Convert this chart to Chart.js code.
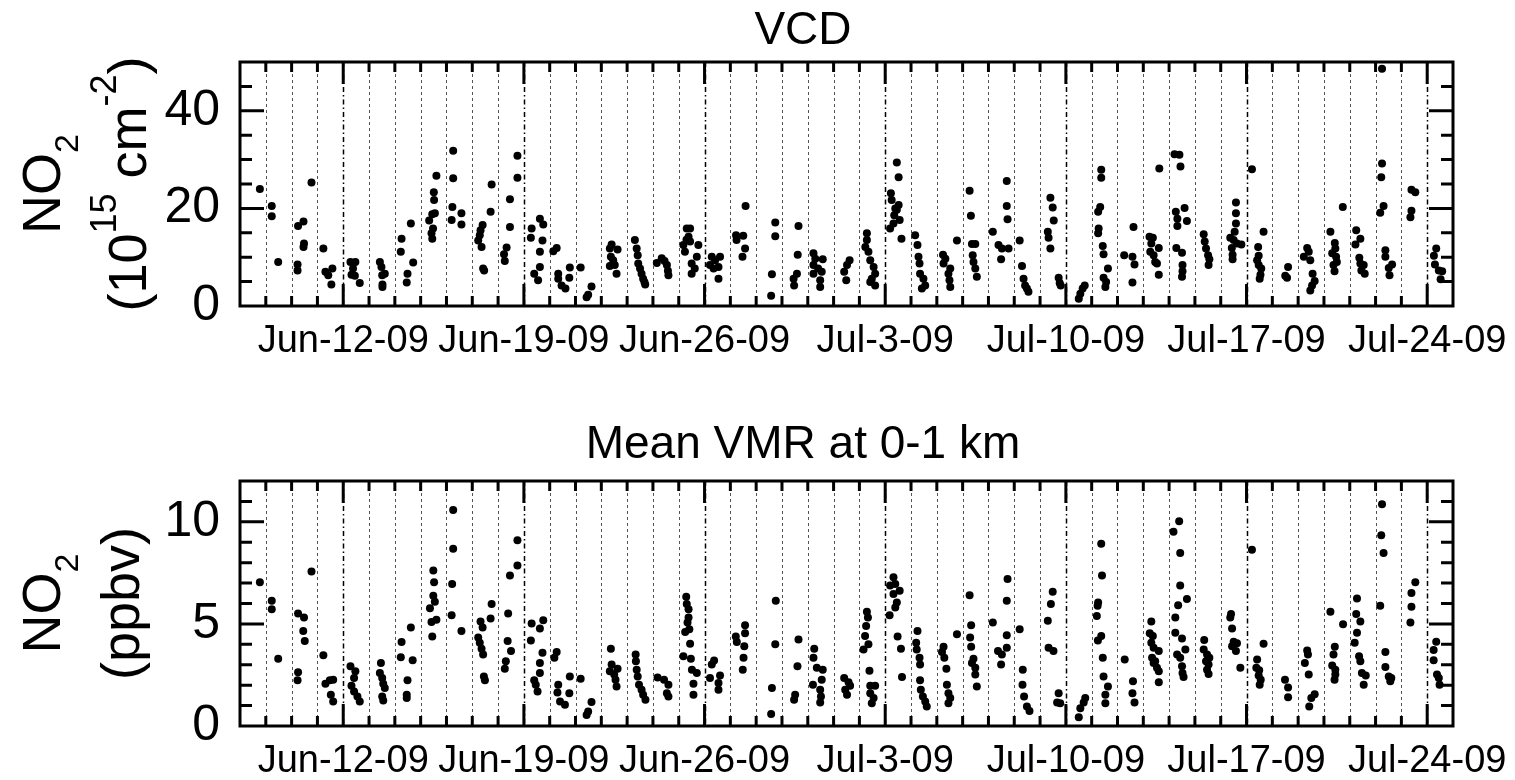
<!DOCTYPE html>
<html>
<head>
<meta charset="utf-8">
<script src="https://cdn.jsdelivr.net/npm/chart.js@4.4.1/dist/chart.umd.min.js"></script>
<style>
  html, body { margin: 0; padding: 0; background: #fff; }
  .panel { position: absolute; left: 0; width: 1515px; height: 390px; }
</style>
</head>
<body>
<div class="panel" style="top:0"><canvas id="vcdChart"></canvas></div>
<div class="panel" style="top:390px"><canvas id="vmrChart"></canvas></div>
<script>
// x = days since Jun-8-09 (0 = Jun-8, 47 = Jul-25)
const weekDays = [4, 11, 18, 25, 32, 39, 46];
const weekLabels = ['Jun-12-09', 'Jun-19-09', 'Jun-26-09', 'Jul-3-09', 'Jul-10-09', 'Jul-17-09', 'Jul-24-09'];

// NO2 VCD (1e15 molec cm-2), one line per day
const vcdTimes = [
  0.77,
  1.23, 1.23, 1.48,
  2.25, 2.46, 2.48, 2.46, 2.23, 2.23, 2.77,
  3.23, 3.31, 3.58, 3.42, 3.54,
  4.28, 4.47, 4.38, 4.32, 4.45, 4.64,
  5.42, 5.48, 5.61, 5.51, 5.52, 5.52,
  6.26, 6.23, 6.62, 6.71, 6.49, 6.46,
  7.61, 7.51, 7.52, 7.33, 7.55, 7.45, 7.48, 7.42, 7.45,
  8.26, 8.26, 8.23, 8.20, 8.58, 8.58,
  9.40, 9.32, 9.29, 9.23, 9.36, 9.42, 9.46, 9.75, 9.71,
  10.75, 10.75, 10.46, 10.46, 10.33, 10.23, 10.26,
  11.30, 11.27, 11.62, 11.75, 11.72, 11.62, 11.62, 11.40, 11.55,
  12.27, 12.14, 12.33, 12.33, 12.46, 12.61, 12.76, 12.78,
  13.20, 13.62, 13.49, 13.43,
  14.33, 14.40, 14.63, 14.37, 14.46, 14.33, 14.52, 14.59,
  15.30, 15.37, 15.41, 15.43, 15.50, 15.56, 15.62, 15.67, 15.70,
  16.15, 16.34, 16.45, 16.54, 16.58, 16.60,
  17.31, 17.44, 17.38, 17.44, 17.18, 17.76, 17.70, 17.50, 17.62, 17.50, 17.24, 17.30,
  18.28, 18.60, 18.41, 18.21, 18.54, 18.54, 18.35,
  19.22, 19.24, 19.50, 19.57, 19.47, 19.59,
  20.74, 20.74, 20.61, 20.58,
  21.64, 21.61, 21.58, 21.45, 21.47,
  22.22, 22.29, 22.58, 22.22, 22.40, 22.22, 22.54, 22.48, 22.48,
  23.62, 23.52, 23.41, 23.49,
  24.29, 24.29, 24.23, 24.35, 24.42, 24.55, 24.61, 24.48, 24.61, 24.42,
  25.45, 25.52, 25.22, 25.25, 25.52, 25.45, 25.35, 25.56, 25.32, 25.19, 25.63, 25.39,
  26.16, 26.25, 26.29, 26.33, 26.35, 26.48, 26.55, 26.42,
  27.24, 27.33, 27.26, 27.52, 27.45, 27.49, 27.52, 27.78,
  28.27, 28.32, 28.36, 28.49, 28.39, 28.42, 28.49, 28.55,
  29.71, 29.71, 29.74, 29.17, 29.39, 29.52, 29.78, 29.49,
  30.21, 30.30, 30.36, 30.42, 30.55, 30.49,
  31.30, 31.33, 31.40, 31.49, 31.53, 31.40, 31.72, 31.76, 31.80,
  32.50, 32.56, 32.65, 32.73,
  33.37, 33.37, 33.33, 33.25, 33.27, 33.25, 33.43, 33.46, 33.63, 33.46, 33.56, 33.53,
  34.26, 34.58, 34.66, 34.58, 34.62,
  35.24, 35.37, 35.31, 35.60, 35.27, 35.40, 35.46, 35.53, 35.60, 35.62,
  36.21, 36.40, 36.44, 36.26, 36.32, 36.32, 36.60, 36.69, 36.28, 36.50, 36.52, 36.52, 36.50,
  37.34, 37.38, 37.43, 37.51, 37.56, 37.53,
  38.59, 38.59, 38.59, 38.54, 38.37, 38.50, 38.63, 38.80, 38.43, 38.46, 38.46,
  39.21, 39.66, 39.45, 39.47, 39.41, 39.47, 39.57, 39.54, 39.51,
  40.61, 40.57, 40.50,
  41.35, 41.41, 41.22, 41.47, 41.56, 41.64, 41.54, 41.47,
  42.25, 42.42, 42.44, 42.32, 42.47, 42.50, 42.37, 42.41, 42.73,
  43.25, 43.41, 43.22, 43.37, 43.41, 43.54, 43.45, 43.58,
  44.25, 44.25, 44.22, 44.31, 44.18, 44.38, 44.38, 44.64, 44.51, 44.54,
  45.39, 45.54, 45.39, 45.35,
  46.35, 46.26, 46.30, 46.45, 46.58, 46.52
];
const vcdValues = [
  24.0,
  20.5, 18.4, 9.0,
  16.4, 17.3, 12.8, 12.1, 8.5, 7.3, 25.3,
  11.8, 7.0, 7.7, 6.3, 4.4,
  9.0, 9.0, 7.7, 6.4, 6.2, 4.7,
  9.0, 8.0, 6.6, 6.3, 4.4, 3.9,
  13.8, 11.1, 16.9, 8.9, 6.6, 4.8,
  26.7, 23.3, 21.7, 17.5, 19.0, 18.8, 15.9, 14.9, 13.8,
  31.8, 26.2, 20.3, 17.6, 19.0, 16.7,
  16.6, 15.5, 14.5, 13.4, 12.1, 7.7, 7.3, 24.9, 19.3,
  30.8, 26.3, 21.9, 16.2, 12.0, 10.6, 9.2,
  15.9, 14.0, 17.9, 16.7, 13.4, 11.1, 8.0, 6.6, 5.3,
  11.9, 11.2, 6.6, 5.6, 4.2, 3.6, 5.8, 7.9,
  7.9, 4.0, 2.3, 1.8,
  11.8, 12.6, 11.6, 10.1, 9.4, 8.2, 8.4, 6.6,
  13.5, 11.8, 10.4, 8.7, 7.7, 6.6, 5.6, 4.9, 4.4,
  8.8, 9.8, 9.2, 8.4, 7.2, 6.3,
  15.9, 15.9, 14.2, 13.2, 12.5, 12.5, 10.1, 8.7, 7.7, 6.6, 11.1, 13.6,
  10.1, 10.1, 9.4, 8.4, 8.0, 5.6, 7.7,
  14.5, 13.5, 14.4, 11.8, 10.1, 20.5,
  17.1, 14.3, 6.5, 2.1,
  16.4, 10.5, 6.6, 5.6, 4.2,
  10.8, 9.7, 9.6, 8.4, 7.7, 6.6, 7.0, 5.3, 3.9,
  9.4, 8.4, 7.0, 5.3,
  14.9, 13.5, 12.1, 11.1, 9.4, 8.0, 6.6, 5.6, 4.2, 4.9,
  29.4, 26.4, 23.1, 21.7, 20.7, 19.7, 18.6, 17.6, 16.9, 15.9, 13.8, 20.0,
  14.5, 12.5, 10.1, 8.7, 6.6, 5.6, 4.2, 3.6,
  10.5, 9.7, 8.7, 7.7, 6.6, 5.3, 3.9, 13.4,
  23.6, 18.5, 12.7, 12.7, 10.4, 9.0, 7.7, 6.0,
  25.6, 20.5, 17.8, 15.2, 12.5, 11.8, 11.8, 9.6,
  13.4, 8.2, 5.6, 4.2, 2.9, 3.6,
  15.2, 14.0, 22.2, 20.2, 17.5, 11.8, 5.8, 4.7, 4.2,
  1.5, 2.5, 3.6, 4.2,
  27.9, 26.3, 20.3, 19.3, 15.9, 14.9, 12.3, 10.6, 7.7, 5.8, 4.9, 3.9,
  10.4, 10.1, 8.5, 4.8, 16.2,
  14.2, 14.0, 12.8, 11.9, 11.1, 10.4, 9.0, 8.7, 6.4, 28.2,
  31.1, 31.0, 28.6, 19.3, 17.9, 16.4, 20.1, 17.4, 11.9, 10.9, 8.4, 7.1, 6.0,
  14.7, 13.2, 11.8, 10.4, 9.6, 8.4,
  21.2, 19.0, 16.9, 15.2, 14.0, 13.5, 12.8, 12.6, 11.9, 10.5, 9.6,
  28.0, 15.2, 12.1, 10.3, 9.4, 8.4, 7.7, 6.4, 5.6,
  8.0, 5.8, 6.2,
  11.9, 11.1, 10.1, 9.4, 6.6, 5.1, 4.2, 3.2,
  15.2, 12.9, 11.8, 10.8, 10.1, 9.0, 8.4, 7.1, 20.3,
  15.5, 13.8, 12.6, 9.9, 8.7, 8.4, 7.3, 6.6,
  48.6, 29.2, 26.4, 20.5, 19.1, 11.4, 10.1, 8.5, 7.8, 6.3,
  23.8, 23.3, 19.5, 18.2,
  11.8, 10.3, 8.5, 7.3, 7.1, 5.5
];

// NO2 mean VMR at 0-1 km (ppbv), one line per day
const vmrTimes = [
  0.77,
  1.23, 1.23, 1.48,
  2.25, 2.48, 2.45, 2.51, 2.25, 2.23, 2.77,
  3.23, 3.31, 3.48, 3.61, 3.52, 3.61,
  4.28, 4.47, 4.42, 4.32, 4.42, 4.55, 4.64,
  5.46, 5.42, 5.51, 5.61, 5.55, 5.51, 5.55,
  6.26, 6.23, 6.62, 6.69, 6.49, 6.46, 6.46,
  7.49, 7.52, 7.49, 7.55, 7.36, 7.61, 7.42, 7.45,
  8.26, 8.26, 8.22, 8.20, 8.58,
  9.32, 9.40, 9.23, 9.29, 9.36, 9.42, 9.45, 9.49, 9.75, 9.71,
  10.75, 10.75, 10.46, 10.39, 10.37, 10.50, 10.30, 10.26,
  11.30, 11.27, 11.75, 11.62, 11.72, 11.62, 11.62, 11.40, 11.46, 11.53,
  12.27, 12.18, 12.33, 12.30, 12.40, 12.59, 12.76, 12.78,
  13.20, 13.62, 13.49, 13.43,
  14.37, 14.40, 14.63, 14.33, 14.50, 14.55, 14.59,
  15.33, 15.34, 15.37, 15.41, 15.46, 15.56, 15.62, 15.71,
  16.18, 16.43, 16.60, 16.54, 16.60,
  17.29, 17.31, 17.38, 17.38, 17.34, 17.41, 17.25, 17.44, 17.18, 17.47, 17.51, 17.70, 17.57, 17.57,
  18.37, 18.28, 18.60, 18.21, 18.54, 18.54,
  19.21, 19.25, 19.57, 19.57, 19.54, 19.51, 19.48,
  20.76, 20.74, 20.61, 20.58,
  21.64, 21.60, 21.51, 21.47,
  22.25, 22.22, 22.35, 22.58, 22.20, 22.54, 22.48, 22.51, 22.48,
  23.41, 23.58, 23.64, 23.45, 23.52,
  24.29, 24.33, 24.26, 24.22, 24.35, 24.16, 24.39, 24.42, 24.61, 24.42, 24.55, 24.48,
  25.32, 25.39, 25.19, 25.56, 25.32, 25.45, 25.39, 25.17, 25.48, 25.61, 25.65,
  26.25, 26.20, 26.22, 26.33, 26.35, 26.35, 26.38, 26.46, 26.55, 26.61,
  27.26, 27.20, 27.29, 27.37, 27.39, 27.45, 27.52, 27.45, 27.78,
  28.27, 28.33, 28.29, 28.33, 28.42, 28.36, 28.49, 28.49, 28.55,
  29.74, 29.71, 29.17, 29.71, 29.37, 29.52, 29.71, 29.49,
  30.21, 30.33, 30.32, 30.38, 30.49, 30.59,
  31.49, 31.42, 31.30, 31.33, 31.52, 31.72, 31.66, 31.78,
  32.50, 32.56, 32.69, 32.75,
  33.37, 33.40, 33.25, 33.23, 33.20, 33.37, 33.24, 33.43, 33.46, 33.63, 33.53, 33.53,
  34.28, 34.60, 34.58, 34.66,
  35.31, 35.25, 35.37, 35.31, 35.40, 35.60, 35.34, 35.46, 35.40, 35.53, 35.60, 35.60,
  36.17, 36.39, 36.43, 36.43, 36.35, 36.69, 36.24, 36.24, 36.50, 36.63, 36.31, 36.43, 36.50, 36.52, 36.56,
  37.36, 37.34, 37.47, 37.56, 37.43, 37.53, 37.47, 37.53,
  38.40, 38.37, 38.44, 38.50, 38.63, 38.44, 38.59, 38.76,
  39.21, 39.66, 39.41, 39.38, 39.49, 39.47, 39.55, 39.51,
  40.49, 40.61, 40.61,
  41.35, 41.26, 41.41, 41.64, 41.51, 41.43, 41.38,
  42.25, 42.42, 42.37, 42.32, 42.44, 42.44, 42.41, 42.74,
  43.28, 43.25, 43.41, 43.28, 43.19, 43.36, 43.41, 43.47, 43.62, 43.54,
  44.25, 44.22, 44.31, 44.18, 44.38, 44.38, 44.51, 44.61, 44.57,
  45.54, 45.39, 45.39, 45.35,
  46.35, 46.25, 46.25, 46.38, 46.45, 46.48
];
const vmrValues = [
  7.04,
  6.13, 5.72, 3.29,
  5.51, 5.31, 4.65, 4.16, 2.63, 2.24, 7.57,
  3.47, 2.07, 2.24, 2.27, 1.53, 1.20,
  2.93, 2.68, 2.35, 1.97, 1.69, 1.45, 1.20,
  3.09, 2.60, 2.35, 1.86, 2.07, 1.45, 1.25,
  4.11, 3.37, 4.82, 3.22, 2.24, 1.53, 1.37,
  7.62, 7.04, 6.38, 6.09, 5.77, 5.20, 5.10, 4.38,
  10.58, 8.68, 6.96, 5.43, 4.65,
  5.12, 4.82, 4.33, 4.08, 3.78, 3.50, 2.43, 2.24, 5.97, 5.26,
  9.10, 7.86, 7.37, 5.51, 4.16, 3.67, 3.17, 2.80,
  5.02, 4.19, 5.18, 4.77, 3.59, 3.09, 2.60, 2.24, 2.02, 1.69,
  3.63, 3.34, 2.02, 1.64, 1.20, 1.04, 1.61, 2.43,
  2.32, 1.17, 0.71, 0.54,
  3.78, 3.01, 2.80, 2.68, 2.52, 2.27, 1.94,
  3.50, 3.17, 2.76, 2.43, 2.02, 1.78, 1.53, 1.28,
  2.38, 2.27, 2.02, 1.61, 1.45,
  6.33, 5.97, 5.72, 5.31, 5.07, 4.74, 4.61, 4.03, 3.42, 3.29, 2.76, 2.60, 2.07, 1.53,
  3.21, 3.01, 2.47, 2.35, 2.11, 1.78,
  4.38, 4.11, 4.93, 4.54, 3.91, 3.34, 2.76,
  6.13, 4.00, 1.86, 0.59,
  4.24, 2.93, 1.53, 1.28,
  3.78, 3.34, 2.85, 2.76, 2.02, 2.27, 1.78, 1.45, 1.15,
  2.35, 2.14, 1.97, 1.78, 1.53,
  5.59, 5.31, 4.90, 4.41, 4.00, 3.75, 2.71, 1.97, 1.97, 1.61, 1.37, 1.12,
  7.29, 6.96, 6.88, 6.63, 6.46, 6.05, 5.81, 5.43, 4.38, 3.78, 2.40,
  4.65, 4.08, 3.75, 3.34, 3.01, 2.24, 1.78, 1.45, 1.20, 0.95,
  3.88, 3.62, 3.34, 2.80, 2.02, 1.61, 1.37, 1.12, 4.49,
  6.41, 4.93, 4.33, 3.88, 3.29, 3.09, 2.85, 2.52, 1.94,
  7.20, 6.13, 5.07, 4.44, 3.67, 3.50, 3.83, 3.01,
  4.74, 2.76, 2.02, 1.45, 0.95, 0.74,
  6.58, 5.97, 5.15, 3.83, 3.67, 1.61, 1.15, 1.12,
  0.43, 0.87, 1.15, 1.37,
  8.93, 7.37, 6.05, 5.89, 5.39, 4.41, 4.19, 3.34, 2.43, 1.94, 1.53, 1.12,
  3.26, 2.19, 1.61, 1.15,
  5.12, 4.54, 4.41, 4.08, 3.83, 3.67, 3.34, 3.17, 3.09, 2.85, 2.68, 2.14,
  9.51, 10.03, 8.47, 6.88, 5.92, 6.22, 5.31, 4.57, 4.29, 3.75, 3.50, 3.34, 2.93, 2.60, 2.40,
  4.21, 3.75, 3.50, 3.34, 3.17, 3.01, 2.76, 2.55,
  5.48, 5.31, 4.77, 4.13, 4.05, 3.91, 3.67, 2.85,
  8.63, 4.03, 3.26, 2.85, 2.73, 2.47, 2.27, 2.02,
  2.27, 1.89, 1.41,
  3.70, 3.09, 2.52, 1.56, 1.37, 0.95, 3.50,
  5.59, 3.88, 3.50, 2.96, 2.76, 2.52, 2.27, 4.98,
  6.25, 5.48, 5.12, 4.57, 4.08, 3.42, 3.17, 2.60, 2.47, 2.02,
  10.86, 9.34, 8.47, 5.89, 3.63, 2.89, 2.43, 2.35, 2.19,
  7.04, 6.51, 5.84, 5.07,
  4.13, 3.72, 3.22, 2.52, 2.35, 2.02
];

const FONT = '"Liberation Sans", Arial, Helvetica, sans-serif';
Chart.defaults.font.family = FONT;
Chart.defaults.color = '#000';

function richText(ctx, segs, cx, base) {
  let total = 0;
  segs.forEach(s => {
    ctx.font = s.size + 'px ' + FONT;
    s.w = ctx.measureText(s.text).width;
    total += s.w;
  });
  let xx = cx - total / 2;
  segs.forEach(s => {
    ctx.font = s.size + 'px ' + FONT;
    ctx.fillText(s.text, xx, base + (s.dy || 0));
    xx += s.w;
  });
}

// frame, inward ticks, daily dotted lines, titles
const decor = {
  id: 'decor',
  beforeDatasetsDraw(chart) {
    const { ctx, chartArea: a, scales: { x } } = chart;
    ctx.save();
    for (let d = x.min + 1; d < x.max; d++) {
      const px = Math.round(x.getPixelForValue(d)) + 0.5;
      const major = weekDays.includes(d);
      ctx.setLineDash(major ? [5, 3, 1.5, 3] : [3, 3]);
      ctx.strokeStyle = major ? '#000' : '#555';
      ctx.lineWidth = major ? 1.5 : 1;
      ctx.beginPath();
      ctx.moveTo(px, a.top);
      ctx.lineTo(px, a.bottom);
      ctx.stroke();
    }
    ctx.restore();
  },
  afterDatasetsDraw(chart) {
    const { ctx, chartArea: a, scales: { x, y } } = chart;
    ctx.save();
    ctx.setLineDash([]);
    ctx.strokeStyle = '#000';
    ctx.lineWidth = 3;
    ctx.beginPath();
    for (let d = x.min + 1; d < x.max; d++) {
      const px = x.getPixelForValue(d);
      const len = weekDays.includes(d) ? 22 : 10;
      ctx.moveTo(px, a.bottom); ctx.lineTo(px, a.bottom - len);
      ctx.moveTo(px, a.top); ctx.lineTo(px, a.top + len);
    }
    y.ticks.forEach(t => {
      if (t.value <= y.min || t.value >= y.max) return;
      const py = y.getPixelForValue(t.value);
      const len = t.label ? 24 : 12;
      ctx.moveTo(a.left, py); ctx.lineTo(a.left + len, py);
      ctx.moveTo(a.right, py); ctx.lineTo(a.right - len, py);
    });
    ctx.stroke();
    ctx.strokeRect(a.left, a.top, a.right - a.left, a.bottom - a.top);
    ctx.restore();
  },
  afterDraw(chart, args, o) {
    const { ctx, chartArea: a } = chart;
    ctx.save();
    ctx.fillStyle = '#000';
    ctx.textBaseline = 'alphabetic';
    ctx.textAlign = 'left';
    richText(ctx, [{ text: o.title, size: 46 }], 803, o.titleBase);
    const cy = (a.top + a.bottom) / 2;
    o.yLines.forEach(line => {
      ctx.save();
      ctx.translate(line.base, cy);
      ctx.rotate(-Math.PI / 2);
      richText(ctx, line.segs, 0, 0);
      ctx.restore();
    });
    ctx.restore();
  }
};

function makePanel(id, times, values, yMax, yStep, yLabelEvery, padTop, xHeight, decorOpts) {
  const n = Math.min(times.length, values.length);
  const points = [];
  for (let i = 0; i < n; i++) points.push({ x: times[i], y: values[i] });

  new Chart(document.getElementById(id), {
    type: 'scatter',
    data: {
      datasets: [{
        data: points,
        pointRadius: 4,
        pointBorderWidth: 0,
        pointBackgroundColor: '#000',
        pointBorderColor: '#000'
      }]
    },
    options: {
      responsive: true,
      maintainAspectRatio: false,
      animation: false,
      devicePixelRatio: 1,
      layout: { padding: { top: padTop, right: 62, bottom: 0, left: 0 } },
      plugins: {
        legend: { display: false },
        tooltip: { enabled: false },
        decor: decorOpts
      },
      scales: {
        x: {
          type: 'linear',
          min: 0,
          max: 47,
          afterBuildTicks: s => {
            s.ticks = [];
            for (let d = 0; d <= 47; d++) s.ticks.push({ value: d });
          },
          ticks: {
            autoSkip: false,
            maxRotation: 0,
            minRotation: 0,
            padding: 13,
            color: '#000',
            font: { size: 38 },
            callback: v => {
              const k = weekDays.indexOf(v);
              return k >= 0 ? weekLabels[k] : '';
            }
          },
          grid: { display: false, drawTicks: false },
          border: { display: false },
          afterFit: s => { s.height = xHeight; }
        },
        y: {
          min: 0,
          max: yMax,
          afterBuildTicks: s => {
            s.ticks = [];
            for (let v = 0; v <= yMax; v += yStep) s.ticks.push({ value: v });
          },
          ticks: {
            autoSkip: false,
            padding: 20,
            color: '#000',
            font: { size: 50 },
            callback: v => (v % yLabelEvery === 0 ? String(v) : '')
          },
          grid: { display: false, drawTicks: false },
          border: { display: false },
          afterFit: s => { s.width = 240; }
        }
      }
    },
    plugins: [decor]
  });
}

makePanel('vcdChart', vcdTimes, vcdValues, 50, 5, 20, 62, 84, {
  title: 'VCD',
  titleBase: 44,
  yLines: [
    { base: 60, segs: [{ text: 'NO', size: 54 }, { text: '2', size: 34, dy: 18 }] },
    { base: 146, segs: [
      { text: '(10', size: 54 },
      { text: '15', size: 36, dy: -30 },
      { text: ' cm', size: 54 },
      { text: '-2', size: 36, dy: -30 },
      { text: ')', size: 54 }
    ] }
  ]
});

makePanel('vmrChart', vmrTimes, vmrValues, 12, 1, 5, 91, 54, {
  title: 'Mean VMR at 0-1 km',
  titleBase: 68,
  yLines: [
    { base: 60, segs: [{ text: 'NO', size: 54 }, { text: '2', size: 34, dy: 18 }] },
    { base: 139, segs: [{ text: '(ppbv)', size: 54 }] }
  ]
});
</script>
</body>
</html>
